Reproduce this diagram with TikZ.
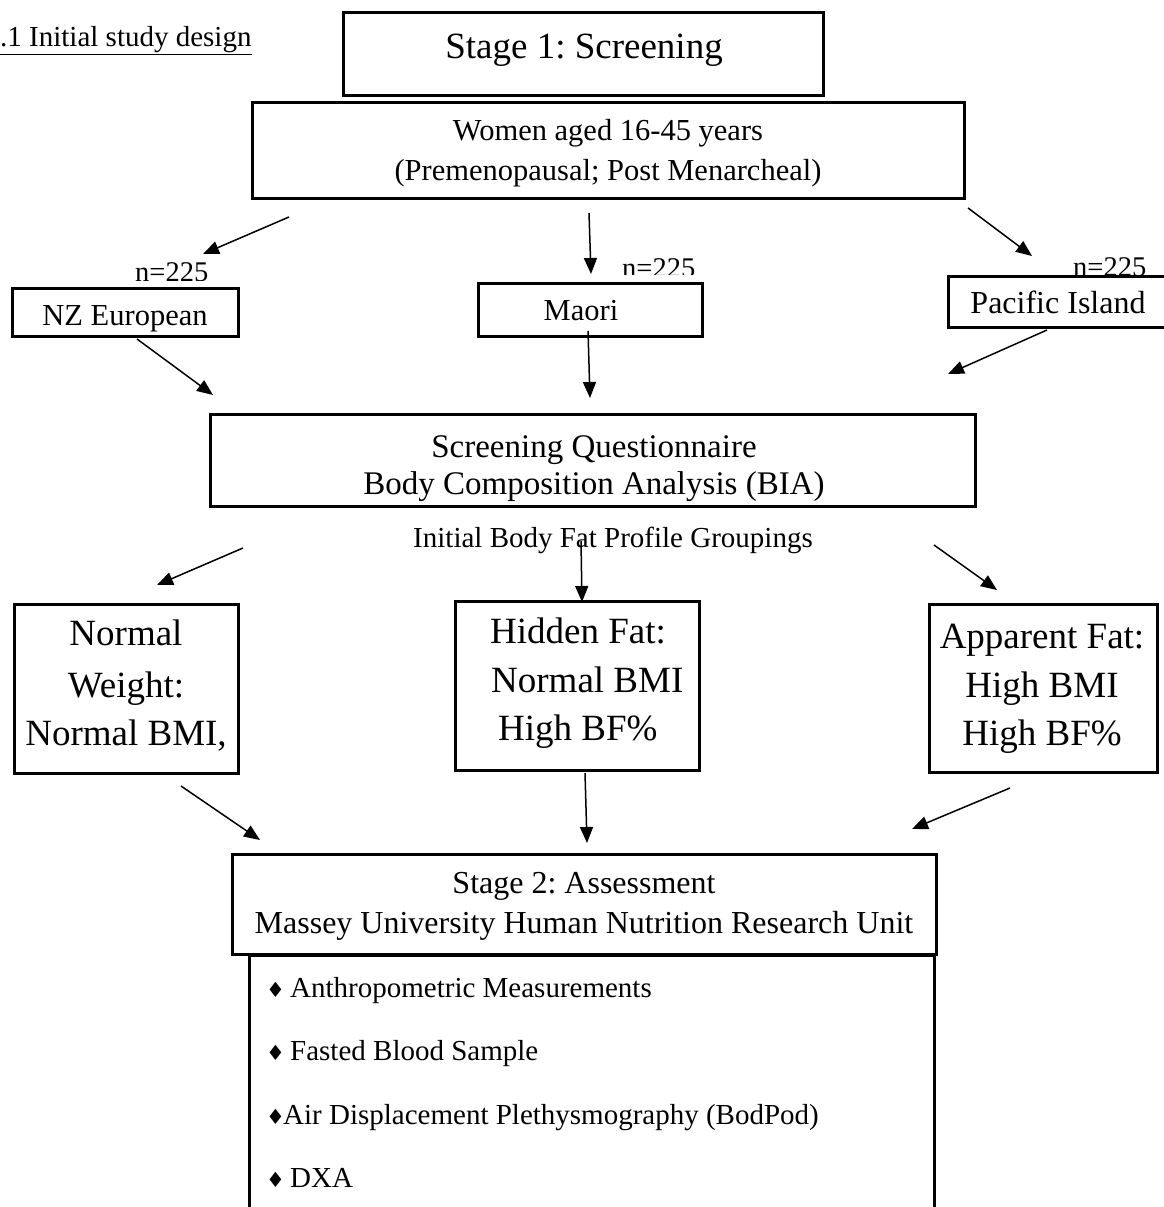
\documentclass[tikz,border=0pt]{standalone}
\usepackage{fontspec}
\setmainfont{Liberation Serif}
\newfontfamily\symfont{DejaVu Sans}
\usetikzlibrary{arrows.meta}
\frenchspacing
\begin{document}
\begin{tikzpicture}[x=1pt,y=-1pt,
  box/.style={draw, line width=3pt, inner sep=0pt, fill=white},
  lbl/.style={anchor=base, inner sep=0pt},
  lblw/.style={anchor=base west, inner sep=0pt},
  arr/.style={line width=1.5pt, -{Triangle[length=16pt,width=13pt]}},
  fA/.style={font=\fontsize{37}{44}\selectfont},
  fB/.style={font=\fontsize{30.5}{37}\selectfont},
  fS/.style={font=\fontsize{33}{40}\selectfont},
  fC/.style={font=\fontsize{37}{44}\selectfont},
  fN/.style={font=\fontsize{28.5}{34}\selectfont},
  fL/.style={font=\fontsize{29}{35}\selectfont},
  fD/.style={font=\symfont\fontsize{21}{24}\selectfont},
]
\useasboundingbox (0,0) rectangle (1163,1207);

% title
\node[lblw, font=\fontsize{29}{35}\selectfont] (title) at (0,47) {\underline{.1 Initial study design}};

% n=225 labels (partly hidden)
\begin{scope}
  \clip (100,240) rectangle (260,280);
  \node[lblw, fN] (n1) at (135,281) {n=225};
\end{scope}
\begin{scope}
  \clip (600,240) rectangle (720,274);
  \node[lblw, fN] (n2) at (622,277) {n=225};
\end{scope}
\begin{scope}
  \clip (1050,240) rectangle (1163,274);
  \node[lblw, fN] (n3) at (1073,276) {n=225};
\end{scope}

% boxes
\node[box, minimum width=480pt, minimum height=82pt] (s1) at (583,54) {};
\node[box, minimum width=712pt, minimum height=96pt] (women) at (608,150) {};
\node[box, minimum width=226pt, minimum height=48pt] (nze) at (125,312) {};
\node[box, minimum width=224pt, minimum height=53pt] (maori) at (590,309.5) {};
\node[box, minimum width=231pt, minimum height=51pt] (pac) at (1063.5,301.5) {};
\node[box, minimum width=765pt, minimum height=92pt] (scr) at (592.5,460) {};
\node[box, minimum width=224pt, minimum height=169pt] (nw) at (126,688.5) {};
\node[box, minimum width=244pt, minimum height=169pt] (hf) at (577,685.5) {};
\node[box, minimum width=228pt, minimum height=168pt] (af) at (1043,688) {};
\node[box, minimum width=685pt, minimum height=275pt] (list) at (591.5,1092.5) {};
\node[box, minimum width=704pt, minimum height=100pt] (s2) at (584,904) {};

% texts
\node[lbl, fA] (s1t) at (584,59) {Stage 1: Screening};
\node[lbl, fB] (w1) at (608,140) {Women aged 16-45 years};
\node[lbl, fB] (w2) at (608,180) {(Premenopausal; Post Menarcheal)};
\node[lbl, fB] (nzet) at (125,325) {NZ European};
\node[lbl, fB] (maorit) at (581,320) {Maori};
\node[lbl, font=\fontsize{32}{38}\selectfont] (pact) at (1058,313) {Pacific Island};
\node[lbl, fS] (sc1) at (594,457) {Screening Questionnaire};
\node[lbl, fS] (sc2) at (594,494) {Body Composition Analysis (BIA)};
\node[lbl, font=\fontsize{29}{34}\selectfont] (grp) at (613,547) {Initial Body Fat Profile Groupings};
\node[lbl, fC] (nw1) at (126,645) {Normal};
\node[lbl, fC] (nw2) at (126,697) {Weight:};
\node[lbl, fC] (nw3) at (126,745) {Normal BMI,};
\node[lblw, fC] (hf1) at (490,643) {Hidden Fat:};
\node[lblw, fC] (hf2) at (491,692) {Normal BMI};
\node[lblw, fC] (hf3) at (498,740) {High BF\%};
\node[lbl, fC] (af1) at (1042,648) {Apparent Fat:};
\node[lbl, fC] (af2) at (1042,697) {High BMI};
\node[lbl, fC] (af3) at (1042,745) {High BF\%};
\node[lbl, font=\fontsize{32}{38}\selectfont] (s2a) at (584,893) {Stage 2: Assessment};
\node[lbl, font=\fontsize{32}{38}\selectfont] (s2b) at (584,933) {Massey University Human Nutrition Research Unit};

% list
\node[lblw, fD] (b1) at (266,997) {♦};
\node[lblw, fL] (i1) at (290,997) {Anthropometric Measurements};
\node[lblw, fD] (b2) at (266,1060) {♦};
\node[lblw, fL] (i2) at (290,1060) {Fasted Blood Sample};
\node[lblw, fD] (b3) at (266,1124) {♦};
\node[lblw, fL] (i3) at (283,1124) {Air Displacement Plethysmography (BodPod)};
\node[lblw, fD] (b4) at (266,1187) {♦};
\node[lblw, fL] (i4) at (290,1187) {DXA};

% arrow end points
\coordinate (a1s) at (289,217);  \coordinate (a1e) at (203,254);
\coordinate (a2s) at (589,213);  \coordinate (a2e) at (591,274);
\coordinate (a3s) at (968,208);  \coordinate (a3e) at (1032,256);
\coordinate (b1s) at (137,339);  \coordinate (b1e) at (213,395);
\coordinate (b2s) at (588,331);  \coordinate (b2e) at (590,398);
\coordinate (b3s) at (1047,330); \coordinate (b3e) at (948,374);
\coordinate (c1s) at (243,548);  \coordinate (c1e) at (157,585);
\coordinate (c2s) at (581,541);  \coordinate (c2e) at (582,602);
\coordinate (c3s) at (934,545);  \coordinate (c3e) at (997,590);
\coordinate (d1s) at (181,786);  \coordinate (d1e) at (260,840);
\coordinate (d2s) at (585,773);  \coordinate (d2e) at (587,843);
\coordinate (d3s) at (1010,788); \coordinate (d3e) at (912,829);

\foreach \p in {a1,a2,a3,b1,b2,b3,c1,c2,c3,d1,d2,d3}
  \draw[arr] (\p s) -- (\p e);
\end{tikzpicture}
\end{document}
